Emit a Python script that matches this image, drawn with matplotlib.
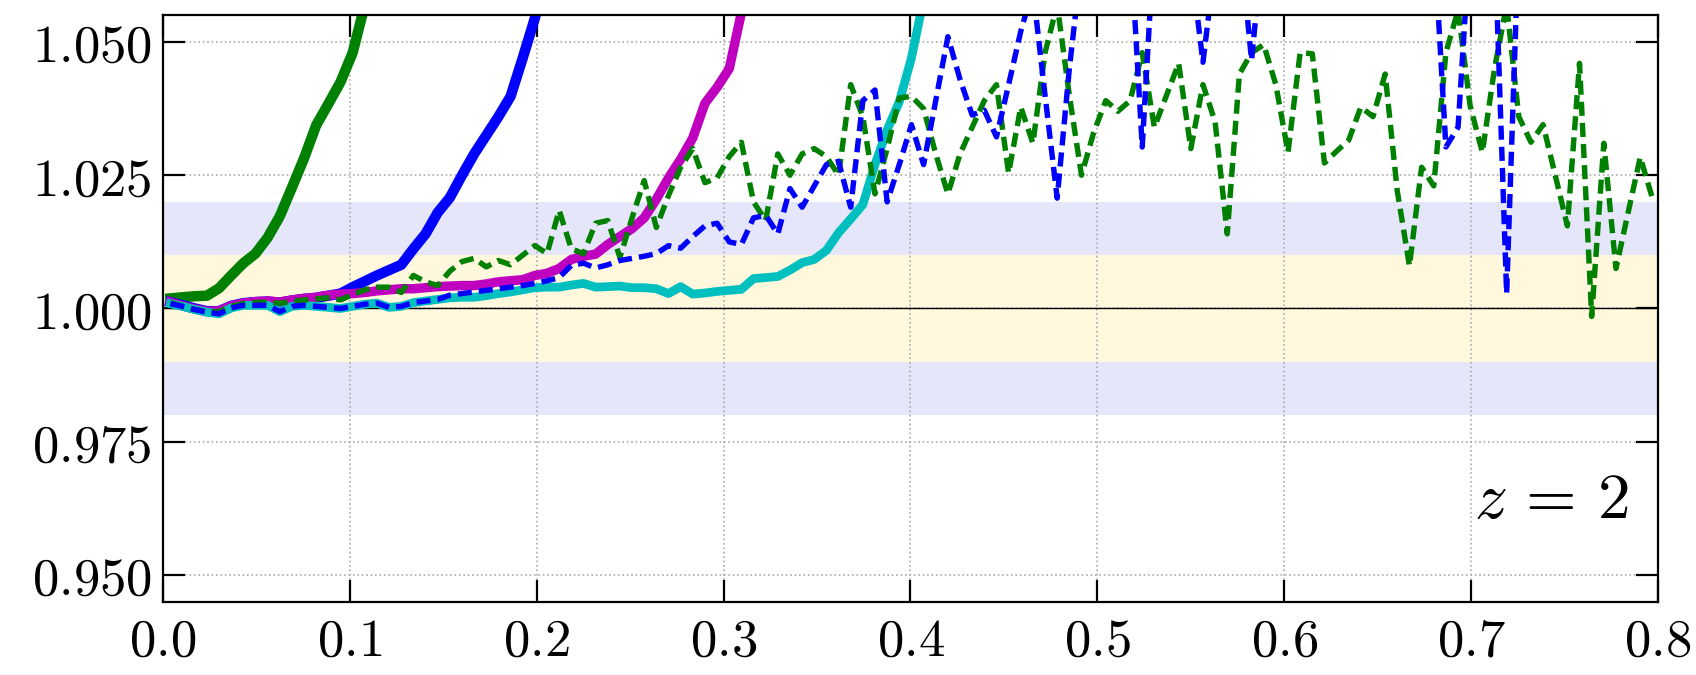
import numpy as np
import matplotlib
matplotlib.use("Agg")
import matplotlib.pyplot as plt
from matplotlib.ticker import FuncFormatter

plt.rcParams['mathtext.fontset'] = 'cm'
plt.rcParams['font.family'] = ['DejaVu Serif']

# === 数据：k 网格（等间距 bin）和各曲线的比值 ===
k0, dk = 0.004, 0.0065

green_solid = [1.0019, 1.0021, 1.0023, 1.0024, 1.0038, 1.0062, 1.0085, 1.0103, 1.0133, 1.0173,
               1.0227, 1.0282, 1.0344, 1.0384, 1.0425, 1.0480, 1.0570, 1.0660]

blue_solid = [1.0012, 1.0006, 1.0000, 0.9995, 0.9995, 1.0005, 1.0010, 1.0012, 1.0013, 1.0011,
              1.0015, 1.0018, 1.0020, 1.0024, 1.0028, 1.0040, 1.0051, 1.0062, 1.0072, 1.0082,
              1.0112, 1.0140, 1.0180, 1.0208, 1.0250, 1.0290, 1.0325, 1.0360, 1.0398, 1.0470,
              1.0545, 1.0630]

magenta_solid = [1.0012, 1.0005, 0.9999, 0.9995, 0.9995, 1.0005, 1.0010, 1.0013, 1.0014, 1.0012,
                 1.0016, 1.0019, 1.0021, 1.0025, 1.0027, 1.0028, 1.0030, 1.0033, 1.0035, 1.0037,
                 1.0037, 1.0039, 1.0041, 1.0042, 1.0043, 1.0043, 1.0046, 1.0050, 1.0052, 1.0054,
                 1.0062, 1.0066, 1.0075, 1.0092, 1.0098, 1.0102, 1.0120, 1.0135, 1.0150, 1.0170,
                 1.0205, 1.0245, 1.0280, 1.0320, 1.0385, 1.0415, 1.0450, 1.0555, 1.0650]

cyan_solid = [1.0009, 1.0004, 0.9998, 0.9993, 0.9990, 1.0001, 1.0006, 1.0006, 1.0006, 0.9994,
              1.0004, 1.0006, 1.0004, 1.0002, 1.0000, 1.0004, 1.0008, 1.0010, 1.0002, 1.0004,
              1.0011, 1.0014, 1.0017, 1.0020, 1.0021, 1.0021, 1.0024, 1.0028, 1.0031, 1.0035,
              1.0039, 1.0040, 1.0040, 1.0044, 1.0047, 1.0040, 1.0041, 1.0042, 1.0039, 1.0039,
              1.0037, 1.0028, 1.0041, 1.0027, 1.0029, 1.0032, 1.0034, 1.0036, 1.0056, 1.0058,
              1.0060, 1.0072, 1.0086, 1.0092, 1.0109, 1.0142, 1.0168, 1.0195, 1.0270, 1.0335,
              1.0388, 1.0470, 1.0580]

green_dashed = [1.0011, 1.0004, 0.9998, 0.9994, 0.9994, 1.0004, 1.0009, 1.0011, 1.0012, 1.0010,
                1.0013, 1.0016, 1.0018, 1.0020, 1.0016, 1.0026, 1.0035, 1.0040, 1.0040, 1.0030,
                1.0062, 1.0050, 1.0043, 1.0070, 1.0088, 1.0094, 1.0078, 1.0090, 1.0082, 1.0100,
                1.0118, 1.0103, 1.0184, 1.0112, 1.0103, 1.0160, 1.0165, 1.0096, 1.0170, 1.0240,
                1.0152, 1.0212, 1.0265, 1.0300, 1.0236, 1.0245, 1.0285, 1.0312, 1.0200, 1.0165,
                1.0290, 1.0250, 1.0290, 1.0300, 1.0285, 1.0250, 1.0420, 1.0360, 1.0215, 1.0300,
                1.0395, 1.0398, 1.0375, 1.0290, 1.0215, 1.0290, 1.0340, 1.0390, 1.0420, 1.0254,
                1.0378, 1.0310, 1.0480, 1.0570, 1.0400, 1.0250, 1.0330, 1.0390, 1.0370, 1.0390,
                1.0480, 1.0340, 1.0400, 1.0460, 1.0300, 1.0420, 1.0350, 1.0140, 1.0440, 1.0480,
                1.0495, 1.0420, 1.0293, 1.0480, 1.0478, 1.0273, 1.0295, 1.0316, 1.0378, 1.0360,
                1.0440, 1.0220, 1.0080, 1.0265, 1.0230, 1.0480, 1.0560, 1.0380, 1.0293, 1.0450,
                1.0570, 1.0360, 1.0312, 1.0345, 1.0250, 1.0155, 1.0460, 0.9985, 1.0310, 1.0075,
                1.0180, 1.0284, 1.0207]

blue_dashed = [1.0009, 1.0004, 0.9998, 0.9993, 0.9990, 1.0001, 1.0006, 1.0006, 1.0006, 0.9994,
               1.0004, 1.0006, 1.0004, 1.0002, 1.0000, 1.0004, 1.0008, 1.0010, 1.0002, 1.0004,
               1.0011, 1.0014, 1.0017, 1.0025, 1.0028, 1.0031, 1.0034, 1.0037, 1.0040, 1.0043,
               1.0047, 1.0052, 1.0058, 1.0081, 1.0085, 1.0076, 1.0082, 1.0090, 1.0094, 1.0098,
               1.0103, 1.0118, 1.0113, 1.0135, 1.0155, 1.0160, 1.0125, 1.0120, 1.0170, 1.0175,
               1.0140, 1.0225, 1.0190, 1.0230, 1.0270, 1.0276, 1.0190, 1.0390, 1.0410, 1.0200,
               1.0270, 1.0345, 1.0270, 1.0390, 1.0510, 1.0430, 1.0363, 1.0372, 1.0322, 1.0420,
               1.0520, 1.0600, 1.0400, 1.0207, 1.0450, 1.0650, 1.0700, 1.0700, 1.0700, 1.0700,
               1.0303, 1.0700, 1.0700, 1.0700, 1.0650, 1.0462, 1.0650, 1.0700, 1.0700, 1.0466,
               1.0700, 1.0700, 1.0700, 1.0700, 1.0700, 1.0700, 1.0700, 1.0700, 1.0700, 1.0700,
               1.0700, 1.0700, 1.0700, 1.0700, 1.0700, 1.0303, 1.0340, 1.0700, 1.0700, 1.0700,
               1.0028, 1.0700, 1.0700, 1.0700, 1.0700, 1.0700, 1.0700, 1.0700, 1.0700, 1.0700,
               1.0700, 1.0700, 1.0700]

xticks = [0.0, 0.1, 0.2, 0.3, 0.4, 0.5, 0.6, 0.7, 0.8]
yticks = [0.950, 0.975, 1.000, 1.025, 1.050]


def kgrid(vals):
    return k0 + dk * np.arange(len(vals))


fig = plt.figure(figsize=(16.96, 6.75), dpi=100)
ax = fig.add_axes([0.0961, 0.108, 0.8815, 0.870])

# 误差带
ax.axhspan(0.98, 0.99, color='lavender', lw=0, zorder=0)
ax.axhspan(1.01, 1.02, color='lavender', lw=0, zorder=0)
ax.axhspan(0.99, 1.01, color='cornsilk', lw=0, zorder=0)
ax.axhline(1.0, color='k', lw=1.0, zorder=1.6)

ax.plot(kgrid(green_solid), green_solid, color='g', lw=7.5)
ax.plot(kgrid(blue_solid), blue_solid, color='b', lw=7.5)
ax.plot(kgrid(magenta_solid), magenta_solid, color='m', lw=6.8)
ax.plot(kgrid(cyan_solid), cyan_solid, color='c', lw=6.3)
ax.plot(kgrid(green_dashed), green_dashed, color='g', lw=3.9, ls='--', dashes=(2.6, 1.3))
ax.plot(kgrid(blue_dashed), blue_dashed, color='b', lw=3.9, ls='--', dashes=(2.6, 1.3))

ax.set_xlim(0, 0.8)
ax.set_ylim(0.9449, 1.0551)
ax.set_xticks(xticks)
ax.set_yticks(yticks)
ax.xaxis.set_major_formatter(FuncFormatter(lambda v, p: r'$%.1f$' % v))
ax.yaxis.set_major_formatter(FuncFormatter(lambda v, p: r'$%.3f$' % v))
ax.tick_params(direction='in', top=True, right=True, length=16, width=1.6,
               labelsize=38, pad=10)
ax.tick_params(axis='y', pad=8)
for s in ax.spines.values():
    s.set_linewidth(1.6)
ax.grid(True, ls=':', color='#aaaaaa', lw=1.2)

ax.text(0.98, 0.174, r'$z\,=\,2$', transform=ax.transAxes, ha='right', va='center',
        fontsize=47)

fig.savefig('out.png', dpi=100)
